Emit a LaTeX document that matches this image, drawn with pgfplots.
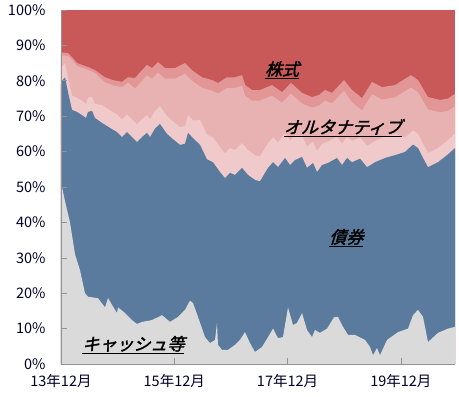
\documentclass[border=0pt]{standalone}
\usepackage{pgfplots}
\pgfplotsset{compat=1.18}
\usepackage{fontspec}
\setmainfont{Noto Sans CJK JP}
\newfontfamily\lab[FakeSlant=0.3,FakeBold=2]{Noto Sans CJK JP}
\definecolor{cred}{RGB}{201,88,88}
\definecolor{cpink3}{RGB}{227,150,150}
\definecolor{cpink2}{RGB}{233,178,178}
\definecolor{cpink1}{RGB}{240,202,202}
\definecolor{cblue}{RGB}{91,123,158}
\definecolor{cgray}{RGB}{218,218,218}
\begin{document}
\begin{tikzpicture}
\begin{axis}[name=ax, scale only axis, width=394pt, height=354pt,
  xmin=0, xmax=83.47, ymin=0, ymax=100, axis on top,
  axis x line*=bottom, axis y line*=left,
  axis line style={draw=gray!85, line width=0.8pt},
  tick style={draw=gray!85, line width=0.6pt}, tick align=inside,
  major tick length=6pt,
  ytick={0,10,20,30,40,50,60,70,80,90,100},
  yticklabels={0\%,10\%,20\%,30\%,40\%,50\%,60\%,70\%,80\%,90\%,100\%},
  xtick={0,24,48,72},
  xticklabels={13年12月,15年12月,17年12月,19年12月},
  ticklabel style={font=\fontsize{14.5}{16}\selectfont, text=black!85!blue},
  yticklabel style={xshift=-12pt},
  xticklabel style={yshift=-7pt},
  /pgf/number format/assume math mode=true,
  clip=true]
% equities (top layer, full)
\addplot[draw=none, fill=cred] coordinates {(0,100) (83.47,100)} \closedcycle;
% alternative 3 (top of pinks = bottom of equities)
\addplot[draw=none, fill=cpink3] coordinates {
(0,88.5) (0.21,88) (1.48,87.8) (2.54,86.4) (3.39,85) (4.45,84.5) (5.72,83.9) (7.20,83)
(9.32,81) (11.02,80.2) (12.92,79.7) (14.19,81) (15.68,80.8) (17.16,83) (18.22,84.5)
(19.28,83.6) (20.55,85.3) (22.03,83.6) (24.15,83.6) (26.27,85) (27.75,83) (29.87,81)
(31.99,80.2) (33.26,79.4) (35.17,81) (36.86,81) (38.35,81.6) (39.02,78.8) (40.47,77.4)
(42.16,77.4) (44.70,78.8) (46.82,76.8) (48.73,79.4) (51.06,76.6) (53.18,75.4) (54.66,76)
(55.93,77.4) (57.42,76.6) (59.96,80.2) (61.65,77.4) (63.77,75.1) (65.89,79.7) (68.01,78.2)
(70.76,78.8) (74.15,81.6) (75.64,80.2) (77.75,75.4) (80.30,74.6) (81.99,75) (83.47,76.3)
} \closedcycle;
% alternative 2
\addplot[draw=none, fill=cpink2] coordinates {
(0,87.7) (0.21,87.2) (1.48,87) (2.54,85.6) (3.39,84.2) (4.45,83.7) (5.72,83.1) (7.20,82.2)
(9.32,79.5) (11.02,78.7) (12.92,78.2) (14.19,79.5) (15.68,77.8) (17.16,80) (18.22,81.5)
(19.28,80.6) (20.55,82.3) (22.03,80.6) (24.15,80.6) (26.27,82) (27.75,80) (29.87,78)
(31.99,77.2) (33.26,76.4) (35.17,78) (36.86,78) (38.35,78.6) (39.02,75.8) (40.47,74.4)
(42.16,74.4) (44.70,75.8) (46.82,73.8) (48.73,76.4) (51.06,73.6) (53.18,72.4) (54.66,73)
(55.93,74.4) (57.42,73.6) (59.96,77.2) (61.65,73.9) (63.77,71.6) (65.89,76.2) (68.01,74.7)
(70.76,75.3) (74.15,78.1) (75.64,76.7) (77.75,71.9) (80.30,71.1) (81.99,71.5) (83.47,72.8)
} \closedcycle;
% alternative 1 (light)
\addplot[draw=none, fill=cpink1] coordinates {
(0,83) (0.21,84) (0.85,85) (1.48,80.8) (2.33,75.8) (3.39,75.2) (4.45,74.3) (5.30,73.5)
(5.72,75.2) (6.57,75.5) (7.20,73.5) (8.69,73.1) (10.38,71.7) (11.86,70.5) (12.92,69.1)
(13.98,70.5) (15.04,69.1) (16.10,67.7) (17.16,69.1) (18.22,70.3) (18.86,69.1) (19.92,71.5)
(20.97,72.8) (22.46,70) (23.73,68.5) (25.21,66.9) (26.27,67.2) (26.91,70.3) (27.97,68.8)
(29.45,68.9) (30.93,64.8) (32.20,64) (33.69,61.2) (34.75,59.5) (35.81,61) (36.86,60.4)
(38.35,62.4) (39.62,60.4) (41.10,59) (42.16,58.6) (43.22,61) (43.86,62.4) (44.92,64)
(45.97,62.6) (47.46,65.2) (48.52,63.2) (49.58,64.6) (51.06,64.5) (52.12,61.4) (53.39,62.8)
(54.24,60.2) (55.30,62.2) (56.57,62.8) (58.47,64.2) (59.53,62.2) (60.59,64.2) (61.65,63)
(63.35,64) (64.83,61.6) (66.53,63) (68.64,64.2) (70.76,65) (72.88,63.9) (74.58,66)
(75.64,65) (76.69,62.2) (77.75,59.6) (79.87,61) (81.78,63) (83.47,65)
} \closedcycle;
% bonds
\addplot[draw=none, fill=cblue] coordinates {
(0,79) (0.21,80) (0.85,81) (1.48,76.8) (2.33,71.8) (3.39,71.2) (4.45,70.3) (5.30,69.5)
(5.72,71.2) (6.57,71.5) (7.20,69.5) (8.69,68.1) (10.38,66.7) (11.86,65.5) (12.92,64.1)
(13.98,65.5) (15.04,64.1) (16.10,62.7) (17.16,64.1) (18.22,65.3) (18.86,64.1) (19.92,66.5)
(20.97,67.8) (22.46,65) (23.73,63.5) (25.21,61.9) (26.27,62.2) (26.91,65.3) (27.97,63.8)
(29.45,61.9) (30.93,57.8) (32.20,57) (33.69,54.2) (34.75,52.5) (35.81,54) (36.86,53.4)
(38.35,55.4) (39.62,53.4) (41.10,52) (42.16,51.6) (43.22,54) (43.86,55.4) (44.92,57)
(45.97,55.6) (47.46,58.2) (48.52,56.2) (49.58,57.6) (51.06,58.5) (52.12,55.4) (53.39,56.8)
(54.24,54.2) (55.30,56.2) (56.57,56.8) (58.47,58.2) (59.53,56.2) (60.59,58.2) (61.65,57)
(63.35,58) (64.83,55.6) (66.53,57) (68.64,58.2) (70.76,59) (72.88,59.9) (74.58,62)
(75.64,61) (76.69,58.2) (77.75,55.6) (79.87,57) (81.78,59) (83.47,61)
} \closedcycle;
% cash
\addplot[draw=none, fill=cgray] coordinates {
(0,50) (0.21,50) (0.85,46) (1.91,40) (2.97,31) (4.03,26.5) (5.08,20) (5.72,19)
(7.84,18.6) (9.32,16) (9.96,18.6) (10.81,16.7) (11.86,14.4) (12.08,16) (13.56,14.4)
(15.04,12.4) (16.10,11.3) (17.16,11.9) (19.28,12.4) (21.40,13.8) (23.09,11.9) (24.79,13.3)
(26.27,15.3) (27.33,17.9) (27.97,17.2) (29.03,13.3) (30.51,7.6) (31.57,5.9) (32.63,6.8)
(33.05,11.6) (33.26,5.4) (34.11,4) (35.38,4) (36.86,5.4) (37.92,6.8) (38.98,9)
(40.04,5.9) (41.10,3.4) (42.58,4.8) (43.86,7.6) (44.92,10) (45.97,7.3) (47.03,7.6)
(48.09,16) (49.15,11) (50.00,11.6) (51.06,14.4) (52.12,9.6) (53.18,7.6) (53.81,9.6)
(54.87,8.8) (56.36,10) (57.84,13.2) (58.69,13.3) (59.75,10.5) (60.81,8.2) (62.29,8.2)
(64.41,6.8) (65.47,4.8) (66.10,2.5) (66.95,4.5) (67.58,2.5) (69.07,6.8) (71.40,9)
(73.52,10) (74.58,13.8) (75.64,15.3) (76.69,13.3) (77.75,6.2) (79.87,8.8) (81.99,10)
(83.47,10.5)
} \closedcycle;
\node[font=\lab\fontsize{17}{20}\selectfont] at (axis cs:46.8,83.0) {\underline{株式}};
\node[font=\lab\fontsize{17}{20}\selectfont] at (axis cs:59.7,66.7) {\underline{オルタナティブ}};
\node[font=\lab\fontsize{17}{20}\selectfont] at (axis cs:60.4,35.6) {\underline{債券}};
\node[font=\lab\fontsize{17}{20}\selectfont] at (axis cs:15.3,5.4) {\underline{キャッシュ等}};
\end{axis}
\pgfresetboundingbox
\path[use as bounding box] ([shift={(-61pt,-33pt)}]ax.south west) rectangle ([shift={(4pt,10pt)}]ax.north east);
\end{tikzpicture}
\end{document}
